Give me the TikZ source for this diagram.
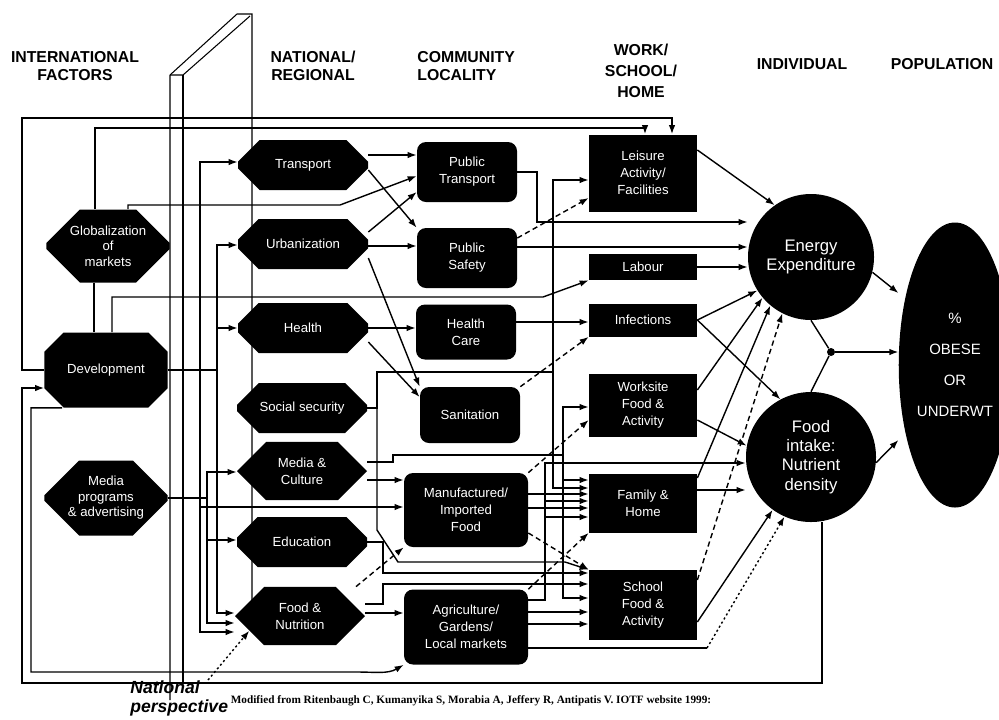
\documentclass[tikz,border=0pt]{standalone}
\usepackage{fontspec}
\setmainfont{Liberation Sans}
\newfontfamily\citefont{Liberation Serif}
\usetikzlibrary{arrows.meta,shapes.misc,shapes.geometric}

\begin{document}
\begin{tikzpicture}[
    x=0.2mm, y=-0.2mm,
    head/.style={font=\fontsize{9}{10.5}\selectfont\bfseries, align=center, inner sep=0pt},
    blk/.style={fill=black, text=white, inner sep=1pt, align=center, font=\fontsize{7.5}{9.6}\selectfont},
    intl/.style={blk, chamfered rectangle, chamfered rectangle xsep=4.4mm, chamfered rectangle ysep=2.6mm, inner ysep=0pt, minimum width=24.6mm, minimum height=14.6mm, font=\fontsize{7.5}{8.8}\selectfont},
    natl/.style={blk, chamfered rectangle, chamfered rectangle xsep=4mm, chamfered rectangle ysep=2.8mm, minimum width=26mm, minimum height=10mm},
    comm/.style={blk, rounded corners=1.8mm, minimum width=20mm, minimum height=12mm},
    home/.style={blk, minimum width=21.6mm},
    indiv/.style={blk, circle, font=\fontsize{9.5}{11}\selectfont},
    link/.style={-{Latex[length=1.8mm,width=1.3mm]}, line width=.8pt},
    weak/.style={link, dash pattern=on 3pt off 2pt},
    dotlink/.style={link, dash pattern=on 1.2pt off 1.5pt},
    wire/.style={line width=.8pt},
    pillar/.style={line width=.6pt},
  ]
  \path[fill=white, use as bounding box] (0,0) rectangle (999,719);

  % the "national perspective" slab, drawn first so the boxes sit on it
  \draw[pillar] (170,700) -- (170,75) -- (237,14) -- (252,14) -- (252,600);
  \draw[pillar] (170,75) -- (183,75) -- (250,16);
  \draw[pillar] (183,75) -- (183,683);

  \node[head] (hintl) at (75,66) {INTERNATIONAL\\FACTORS};
  \node[head] (hnatl) at (313,66) {NATIONAL/\\REGIONAL};
  \node[head, align=left, anchor=west] (hcomm) at (417,66) {COMMUNITY\\LOCALITY};
  \node[head, font=\fontsize{9}{12}\selectfont\bfseries] (hhome) at (641,71) {WORK/\\SCHOOL/\\HOME};
  \node[head] (hindiv) at (802,64) {INDIVIDUAL};
  \node[head] (hpop) at (942,64) {POPULATION};

  \node[intl] (glob) at (108,246) {Globalization\\of\\markets};
  \node[intl, minimum height=15mm] (devel) at (106,370) {Development};
  \node[intl, minimum height=15mm] (mediaprog) at (106,498) {Media\\programs\\\& advertising};

  \node[natl] (transport) at (303,165) {Transport};
  \node[natl] (urban) at (303,244) {Urbanization};
  \node[natl] (health) at (303,328) {Health};
  \node[natl] (socsec) at (302,408) {Social security};
  \node[natl] (mediacult) at (302,471) {Media \&\\Culture};
  \node[natl] (educ) at (302,542) {Education};
  \node[natl] (foodnut) at (300,616) {Food \&\\Nutrition};

  \node[comm] (pubtrans) at (467,172) {Public\\Transport};
  \node[comm] (pubsafe) at (467,258) {Public\\Safety};
  \node[comm, minimum height=11mm] (hcare) at (466,332) {Health\\Care};
  \node[comm, minimum height=11.2mm] (sanit) at (470,415) {Sanitation};
  \node[comm, minimum width=24.8mm, minimum height=14.8mm] (manuf) at (466,510) {Manufactured/\\Imported\\Food};
  \node[comm, minimum width=24.8mm, minimum height=15mm] (agri) at (466,627) {Agriculture/\\Gardens/\\Local markets};

  \node[home, minimum height=15.4mm] (leisure) at (643,173) {Leisure\\Activity/\\Facilities};
  \node[home, minimum height=5.2mm] (labour) at (643,267) {Labour};
  \node[home, minimum height=6.6mm] (infect) at (643,320) {Infections};
  \node[home, minimum height=12.6mm] (worksite) at (643,405) {Worksite\\Food \&\\Activity};
  \node[home, minimum height=11.8mm] (family) at (643,503) {Family \&\\Home};
  \node[home, minimum height=14mm] (school) at (643,605) {School\\Food \&\\Activity};

  \node[indiv, minimum size=25.2mm] (energy) at (811,257) {Energy\\Expenditure};
  \node[indiv, minimum size=26mm] (intake) at (811,457) {Food\\intake:\\Nutrient\\density};
  \node[circle, fill=black, minimum size=1.6mm, inner sep=0pt] (junction) at (831,352) {};
  \node[blk, ellipse, minimum width=20mm, minimum height=57mm, font=\fontsize{8.5}{17.5}\selectfont] (popul) at (955,365) {\%\\OBESE\\OR\\UNDERWT};

  \node[font=\fontsize{10}{11.3}\selectfont\bfseries\itshape, align=left, inner sep=0pt, anchor=north west] (natlabel) at (130,680) {National\\perspective};
  \node[font=\citefont\fontsize{6.4}{7}\selectfont\bfseries, inner sep=0pt] (credit) at (471,701) {Modified from Ritenbaugh C, Kumanyika S, Morabia A, Jeffery R, Antipatis V. IOTF website 1999:};

  % international level
  \draw[link] (devel.west) -- (22,370) -- (22,118) -- (672,118) -- (leisure.north -| 672,0);
  \draw[link] (glob.north -| 95,0) -- (95,128) -- (645,128) -- (leisure.north -| 645,0);
  \draw[wire] (glob.south -| 94,0) -- (devel.north -| 94,0);
  \draw[link] (glob.north -| 128,0) -- (128,205) -- (340,205) -- (pubtrans.west |- 0,176);
  \draw[link] (devel.north -| 112,0) -- (112,297) -- (543,297) -- (labour.south west);
  \draw[link] (devel.east) -| (200,162) -- (transport.west |- 0,162);
  \draw[link] (devel.east) -| (200,632) -- (foodnut.west |- 0,632);
  \draw[link] (devel.east) -| (200,507) -- (manuf.west |- 0,507);
  \draw[link] (devel.east) -| (217,245) -- (urban.west |- 0,245);
  \draw[link] (devel.east) -| (217,328) -- (health.west |- 0,328);
  \draw[link] (devel.east) -| (217,613) -- (foodnut.west |- 0,613);
  \draw[link] (mediaprog.east) -| (207,472) -- (mediacult.west |- 0,472);
  \draw[link] (mediaprog.east) -| (207,540) -- (educ.west |- 0,540);
  \draw[link] (mediaprog.east) -| (207,623) -- (foodnut.west |- 0,623);
  \draw[link] (devel.south -| 62,0) -| (31,672) -- (357,672) to[out=0, in=210] (agri.south west);
  \draw[link] (intake.south -| 822,0) -- (822,683) -| (22,388) -- (devel.west |- 0,388);

  % national to community
  \draw[link] (transport.east |- 0,155) -- (pubtrans.west |- 0,155);
  \draw[link] (transport.east |- 0,170) -- (pubsafe.north west);
  \draw[link] (urban.east |- 0,232) -- (pubtrans.west |- 0,192);
  \draw[link] (urban.east |- 0,246) -- (pubsafe.west |- 0,246);
  \draw[link] (urban.east |- 0,258) -- (sanit.north west);
  \draw[link] (health.east) -- (hcare.west |- 0,328);
  \draw[link] (health.east |- 0,342) -- (sanit.west |- 0,397);
  \draw[link] (socsec.east) -| (377,372) -| (553,180) -- (leisure.west |- 0,180);
  \draw[link] (socsec.east) -| (377,372) -| (553,488) -- (family.west |- 0,488);
  \draw[link] (socsec.east) -| (377,530) -- (398,562) -- (565,562) -- (school.north west);
  \draw[link] (mediacult.east |- 0,480) -- (manuf.west |- 0,480);
  \draw[link] (mediacult.east |- 0,462) -- (393,462) |- (563,455) -- (563,407) -- (worksite.west |- 0,407);
  \draw[link] (mediacult.east |- 0,462) -- (393,462) |- (563,455) |- (family.west |- 0,480);
  \draw[link] (mediacult.east |- 0,462) -- (393,462) |- (563,455) |- (school.west |- 0,598);
  \draw[link] (educ.east) -| (383,573) -- (school.west |- 0,573);
  \draw[link] (foodnut.east |- 0,604) -| (383,584) -- (school.west |- 0,584);
  \draw[link] (foodnut.east |- 0,613) -- (agri.west |- 0,613);
  \draw[weak] (foodnut.north -| 356,0) -- (manuf.south west);
  \draw[dotlink] (natlabel.north -| 208,0) -- (foodnut.south west);

  % community to work, school and home
  \draw[link] (pubtrans.east |- 0,172) -| (537,222) -- (energy.west |- 0,222);
  \draw[weak] (pubsafe.east |- 0,238) -- (leisure.west |- 0,198);
  \draw[link] (pubsafe.east |- 0,247) -- (energy.west |- 0,247);
  \draw[link] (hcare.east |- 0,322) -- (infect.west |- 0,322);
  \draw[weak] (sanit.north east) -- (infect.south west);
  \draw[weak] (manuf.north east) -- (worksite.west |- 0,420);
  \draw[weak] (manuf.east |- 0,533) -- (school.north west);
  \draw[link] (manuf.east |- 0,494) -- (family.west |- 0,494);
  \draw[link] (manuf.east |- 0,508) -- (family.west |- 0,508);
  \draw[weak] (agri.north east) -- (family.south west);
  \draw[link] (agri.east |- 0,600) -| (545,463) -- (intake.west |- 0,463);
  \draw[link] (agri.east |- 0,600) -| (545,501) -- (family.west |- 0,501);
  \draw[link] (agri.east |- 0,600) -| (545,517) -- (family.west |- 0,517);
  \draw[link] (agri.east |- 0,612) -- (school.west |- 0,612);
  \draw[link] (agri.east |- 0,624) -- (school.west |- 0,624);
  \coordinate (agribend) at (707,648);
  \draw[wire] (agri.east |- agribend) -- (agribend);
  \draw[dotlink] (agribend) -- (intake.246);

  % settings to the individual, and on to the population
  \draw[link] (leisure.east |- 0,150) -- (energy.125);
  \draw[link] (labour.east) -- (energy.west |- 0,267);
  \draw[link] (infect.east) -- (energy.212);
  \draw[link] (infect.east) -- (intake.118);
  \draw[link] (worksite.east |- 0,390) -- (energy.220);
  \draw[link] (worksite.east |- 0,420) -- (intake.170);
  \draw[link] (family.east |- 0,478) -- (energy.230);
  \draw[link] (family.east |- 0,490) -- (intake.west |- 0,490);
  \draw[weak] (school.east |- 0,580) -- (energy.243);
  \draw[link] (school.east |- 0,622) -- (intake.234);
  \draw[link] (energy.-14) -- (popul.west |- 0,293);
  \draw[link] (intake.-5) -- (popul.west |- 0,440);
  \draw[wire] (energy.south) -- (junction);
  \draw[wire] (intake.north) -- (junction);
  \draw[link] (junction) -- (popul.west |- junction);
\end{tikzpicture}
\end{document}
